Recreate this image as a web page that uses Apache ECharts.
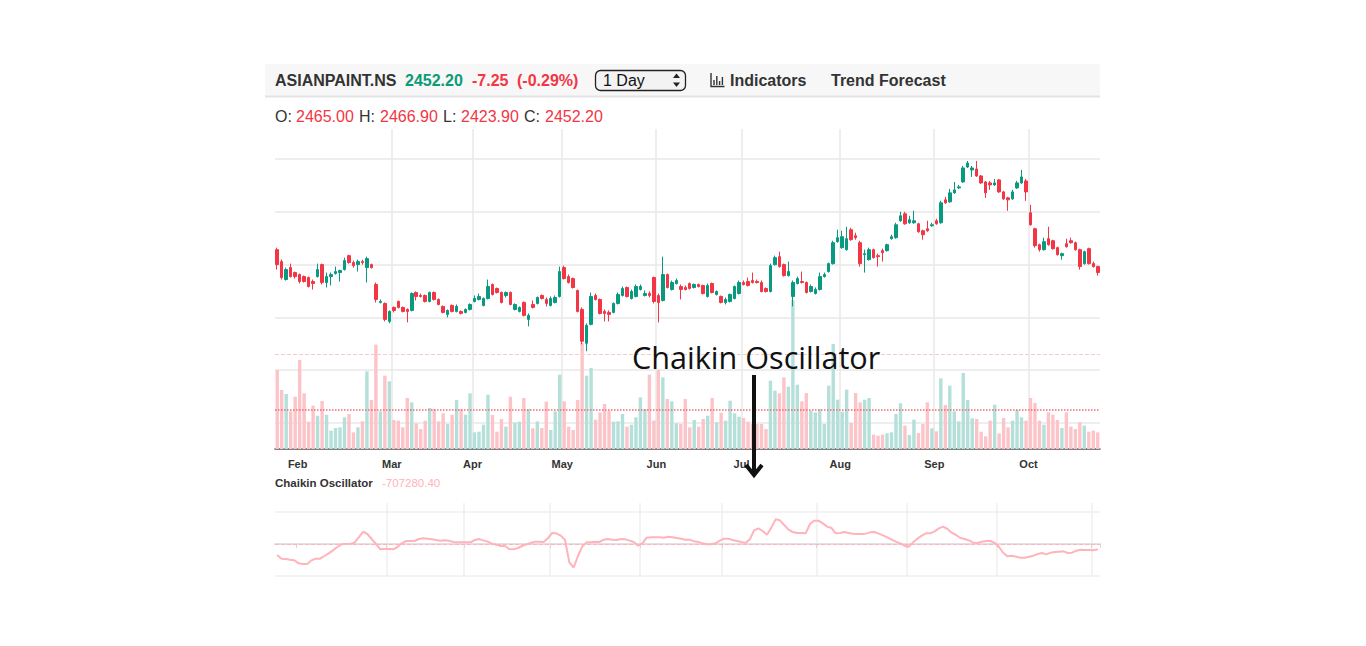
<!DOCTYPE html>
<html>
<head>
<meta charset="utf-8">
<title>ASIANPAINT.NS - Chaikin Oscillator</title>
<script src="https://cdn.jsdelivr.net/npm/echarts@6/dist/echarts.min.js"></script>
<style>
html, body { margin: 0; padding: 0; background: #fff; }
#main { width: 1366px; height: 646px; }
</style>
</head>
<body>
<div id="main"></div>
<script>
// trading days per month (2024)
var janDays = [24, 25, 29, 30, 31];
var febDays = [1, 2, 5, 6, 7, 8, 9, 12, 13, 14, 15, 16, 19, 20, 21, 22, 23, 26, 27, 28, 29];
var marDays = [1, 4, 5, 6, 7, 11, 12, 13, 14, 15, 18, 19, 20, 21, 22, 26, 27, 28];
var aprDays = [1, 2, 3, 4, 5, 8, 9, 10, 12, 15, 16, 18, 19, 22, 23, 24, 25, 26, 29, 30];
var mayDays = [2, 3, 6, 7, 8, 9, 10, 13, 14, 15, 16, 17, 21, 22, 23, 24, 27, 28, 29, 30, 31];
var junDays = [3, 4, 5, 6, 7, 10, 11, 12, 13, 14, 18, 19, 20, 21, 24, 25, 26, 27, 28];
var julDays = [1, 2, 3, 4, 5, 8, 9, 10, 11, 12, 15, 16, 18, 19, 22, 23, 24, 25, 26, 29, 30, 31];
var augDays = [1, 2, 5, 6, 7, 8, 9, 12, 13, 14, 16, 19, 20, 21, 22, 23, 26, 27, 28, 29, 30];
var sepDays = [2, 3, 4, 5, 6, 9, 10, 11, 12, 13, 16, 17, 18, 19, 20, 23, 24, 25, 26, 27, 30];
var octDays = [1, 3, 4, 7, 8, 9, 10, 11, 14, 15, 16, 17, 18, 21, 22, 23];
// the oscillator pane runs a few sessions further
var oscExtraDates = ['2024-10-24', '2024-10-25', '2024-10-28', '2024-10-29', '2024-10-30', '2024-10-31', '2024-11-01', '2024-11-04'];

var monthNames = ['Jan', 'Feb', 'Mar', 'Apr', 'May', 'Jun', 'Jul', 'Aug', 'Sep', 'Oct', 'Nov', 'Dec'];

var opens = [3028,2980,2908,2956,2936,2928,2920,2916,2900,2920,
2968,2896,2920,2932,2936,2948,3004,2976,2968,2980,
2956,2968,2888,2816,2812,2740,2796,2820,2796,2788,
2784,2856,2844,2844,2820,2856,2828,2800,2768,2804,
2780,2780,2776,2788,2820,2828,2804,2832,2888,2872,
2856,2844,2856,2788,2780,2816,2748,2808,2812,2844,
2828,2804,2816,2840,2956,2920,2912,2864,2788,2652,
2728,2844,2828,2780,2776,2776,2812,2844,2876,2832,
2840,2868,2844,2852,2916,2844,2824,2928,2868,2892,
2880,2876,2892,2876,2888,2884,2840,2892,2848,2840,
2816,2820,2832,2852,2896,2900,2904,2900,2896,2872,
2860,2968,3000,2968,2924,2840,2892,2900,2896,2860,
2852,2868,2920,2940,2972,3060,3036,3028,3108,3084,
3056,3008,2988,3028,3004,3024,3024,3072,3076,3144,
3172,3136,3136,3132,3104,3112,3124,3144,3136,3228,
3220,3256,3276,3300,3360,3348,3352,3324,3300,3296,
3288,3308,3260,3236,3232,3276,3296,3304,3176,3112,
3048,3028,3072,3064,3036,3004,3052,3064,3056,3028,
2972,3032,2972,2960];

var closes = [2968,2916,2948,2920,2920,2900,2900,2880,2892,2948,
2896,2920,2928,2940,2944,2984,2976,2964,2980,2976,
2992,2956,2828,2820,2748,2780,2784,2796,2780,2780,
2852,2840,2840,2820,2856,2828,2808,2776,2784,2780,
2800,2772,2788,2808,2832,2840,2832,2880,2848,2856,
2816,2856,2808,2808,2796,2764,2764,2796,2836,2832,
2812,2832,2836,2940,2912,2896,2876,2780,2660,2724,
2840,2828,2772,2772,2768,2812,2848,2872,2840,2860,
2880,2880,2852,2844,2820,2816,2928,2876,2896,2904,
2868,2868,2872,2888,2880,2852,2884,2856,2860,2816,
2828,2848,2880,2896,2888,2884,2896,2896,2860,2860,
2964,2996,2960,2924,2940,2896,2912,2896,2856,2880,
2868,2920,2928,2972,3056,3076,3080,3072,3068,3076,
2972,3012,3028,2996,3000,3016,3048,3080,3128,3164,
3132,3148,3144,3100,3088,3104,3128,3132,3216,3216,
3256,3268,3280,3356,3376,3356,3324,3296,3256,3288,
3296,3260,3232,3228,3260,3296,3320,3260,3128,3044,
3028,3060,3048,3032,3008,3012,3040,3056,3028,2960,
3020,2972,2960,2936];

var lows = [2948,2908,2904,2916,2912,2892,2896,2876,2868,2916,
2888,2876,2884,2928,2900,2944,2972,2956,2940,2968,
2896,2952,2816,2812,2740,2732,2776,2792,2776,2736,
2780,2824,2836,2816,2816,2824,2804,2772,2756,2776,
2776,2768,2772,2784,2816,2824,2800,2828,2844,2852,
2812,2836,2804,2784,2776,2760,2720,2792,2808,2828,
2800,2800,2812,2836,2908,2892,2872,2776,2648,2620,
2724,2824,2768,2740,2740,2772,2808,2840,2836,2828,
2836,2864,2840,2836,2812,2736,2820,2872,2864,2888,
2828,2864,2868,2872,2876,2848,2836,2852,2844,2812,
2808,2816,2828,2848,2884,2880,2892,2892,2856,2856,
2856,2964,2956,2920,2920,2800,2888,2892,2852,2856,
2848,2864,2916,2936,2968,3056,3032,3024,3064,3068,
2960,2936,2984,2992,2960,2980,3020,3068,3072,3140,
3128,3132,3132,3096,3068,3100,3120,3128,3132,3212,
3216,3252,3272,3296,3356,3320,3320,3292,3236,3268,
3284,3256,3228,3184,3228,3272,3292,3224,3124,3036,
3020,3024,3044,3028,3004,2988,3036,3052,3024,2948,
2968,2968,2956,2924];

var highs = [3036,2988,2956,2972,2940,2932,2924,2920,2908,2972,
2972,2936,2936,2960,2948,2996,3008,2984,2988,2988,
3000,2972,2896,2828,2816,2784,2800,2824,2800,2792,
2856,2860,2852,2848,2860,2860,2832,2804,2788,2808,
2808,2784,2792,2812,2844,2852,2836,2908,2892,2876,
2860,2860,2860,2812,2800,2820,2772,2824,2840,2848,
2836,2840,2844,2960,2964,2928,2916,2868,2796,2732,
2856,2852,2832,2788,2784,2816,2856,2880,2880,2868,
2888,2888,2864,2860,2920,2852,3000,2932,2904,2912,
2888,2884,2896,2892,2892,2888,2892,2896,2864,2844,
2836,2852,2884,2904,2904,2916,2936,2908,2904,2876,
2972,3004,3020,2972,2980,2904,2920,2940,2900,2888,
2876,2936,2936,2976,3064,3108,3104,3120,3116,3096,
3064,3028,3036,3032,3012,3032,3052,3088,3136,3180,
3180,3164,3184,3136,3108,3144,3136,3152,3224,3240,
3272,3300,3288,3364,3384,3364,3384,3328,3304,3304,
3312,3312,3264,3240,3268,3304,3348,3312,3208,3116,
3052,3076,3120,3068,3040,3016,3072,3076,3060,3032,
3024,3036,2980,2964];

// volume, thousands of shares
var volumes = [2370,1770,1650,1130,1570,2670,1670,820,1300,1000,
1440,1030,550,630,650,950,1050,500,650,830,
2330,1470,3130,1130,2200,2030,870,850,650,1530,
1400,770,600,850,1230,1200,830,1070,750,1030,
1470,1200,1030,1670,500,520,730,1630,1020,520,
900,670,1570,790,820,1530,1200,620,830,630,
1420,570,1130,2230,1430,670,570,1470,3180,2200,
2430,880,1100,1350,1150,820,830,1050,670,730,
950,1550,1200,2230,850,2370,2150,1500,1430,770,
750,1500,650,870,670,900,1000,1530,800,1090,
850,1450,1070,970,930,820,750,750,750,600,
2050,1750,1670,2150,1870,4470,1930,1430,1680,1150,
1100,1200,750,1900,3150,1480,1120,1780,780,1680,
1400,1480,1530,430,400,430,470,500,1050,1370,
700,420,880,480,750,1400,620,530,2120,1320,
1900,1130,830,2280,1470,920,900,520,380,850,
1330,470,930,650,850,1170,950,850,1530,1380,
850,730,1100,1030,870,630,1100,670,600,800,
700,520,550,500];
var volumeLevels = [2850, 1170];

// Chaikin oscillator, thousands
var chaikin = [-1375,-1833,-1875,-1958,-2042,-2417,-2500,-2500,-2042,-1833,
-1833,-1500,-1167,-792,-375,-42,0,10,167,833,
1542,1250,625,0,-667,-625,-625,-667,-375,83,
375,375,375,625,708,667,583,500,417,458,
417,250,208,208,208,208,500,625,458,292,
42,-83,-250,-250,-625,-667,-500,-250,-42,125,
292,292,250,708,1375,1333,1042,500,-2292,-2958,
-1500,-333,208,208,292,250,542,625,542,500,
625,583,417,250,-208,83,792,833,833,833,
792,917,833,750,667,542,542,333,250,83,
-42,-42,83,417,667,667,500,375,250,125,
583,1708,1958,1625,1167,2042,3083,2958,2375,1792,
1500,1375,1375,1333,2500,2917,2917,2583,2167,2000,
1333,1375,1500,1375,1292,1250,1250,1292,1458,1500,
1292,1083,833,542,292,83,-208,-333,208,667,
1042,1333,1333,1583,1958,2167,1875,1417,1125,750,
625,458,167,125,292,375,375,125,-375,-1125,
-1542,-1458,-1583,-1708,-1708,-1583,-1458,-1250,-1125,-1292,
-1083,-1000,-958,-917,-1125,-1083,-833,-708,-750,-750,
-792,-667];

var UP = '#089981', DOWN = '#f23645';
var VOL_UP = '#b5e0d9', VOL_DOWN = '#fcc4c8';
var OSC = '#ffb3ba';

function pad(n){ return n < 10 ? '0' + n : '' + n; }
function monthDates(m, days){
    return days.map(function(d){ return '2024-' + pad(m) + '-' + pad(d); });
}
var dates = [].concat(
    monthDates(1, janDays), monthDates(2, febDays), monthDates(3, marDays),
    monthDates(4, aprDays), monthDates(5, mayDays), monthDates(6, junDays),
    monthDates(7, julDays), monthDates(8, augDays), monthDates(9, sepDays),
    monthDates(10, octDays)
);
var oscDates = dates.concat(oscExtraDates);

function monthStart(list){
    return function(i){ return i > 0 && i < list.length && list[i].slice(5, 7) !== list[i - 1].slice(5, 7); };
}
var isMonthStart = monthStart(dates);
var isOscMonthStart = monthStart(oscDates);

var candles = dates.map(function(d, i){ return [opens[i], closes[i], lows[i], highs[i]]; });
var volBars = volumes.map(function(v, i){
    return { value: v, itemStyle: { color: closes[i] >= opens[i] ? VOL_UP : VOL_DOWN } };
});

var SANS = '"Liberation Sans", Arial, Helvetica, sans-serif';

function txt(x, y, s, color, font){
    return { type: 'text', x: x, y: y, z: 100,
        style: { text: s, fill: color, font: font, verticalAlign: 'middle' } };
}

var myChart = echarts.init(document.getElementById('main'), null, { renderer: 'svg' });

var option = {
    animation: false,
    backgroundColor: '#fff',
    grid: [
        { left: 275, right: 266, top: 159, height: 264 },
        { left: 275, right: 266, top: 129, height: 320 },
        { left: 275, right: 266, top: 503, height: 73 }
    ],
    xAxis: [
        { type: 'category', gridIndex: 0, data: dates, boundaryGap: true, show: false },
        {
            type: 'category', gridIndex: 1, data: dates, boundaryGap: true,
            axisLine: { lineStyle: { color: '#555', width: 1.5 } },
            axisTick: { show: false },
            axisLabel: {
                interval: isMonthStart,
                formatter: function(v){ return monthNames[+v.slice(5, 7) - 1]; },
                color: '#333', fontWeight: 'bold', fontSize: 11, fontFamily: SANS, margin: 9,
                padding: [0, 4, 0, 0]
            },
            splitLine: { show: true, interval: isMonthStart, showMinLine: false, showMaxLine: false,
                lineStyle: { color: '#e8e8e8', width: 1.5 } }
        },
        {
            type: 'category', gridIndex: 2, data: oscDates, boundaryGap: true,
            axisLine: { lineStyle: { color: '#e2e2e2', width: 2 } },
            axisTick: { show: true, interval: isOscMonthStart, length: 4, lineStyle: { color: '#d8d8d8' } },
            axisLabel: { show: false },
            splitLine: { show: true, interval: isOscMonthStart, showMinLine: false, showMaxLine: false,
                lineStyle: { color: '#efefef', width: 1.5 } }
        }
    ],
    yAxis: [
        {
            type: 'value', gridIndex: 0, min: 2332, max: 3392, interval: 212,
            axisLine: { show: false }, axisTick: { show: false }, axisLabel: { show: false },
            splitLine: { lineStyle: { color: '#e8e8e8', width: 1.5 } }
        },
        {
            type: 'value', gridIndex: 1, min: 0, max: 9600,
            axisLine: { show: false }, axisTick: { show: false }, axisLabel: { show: false },
            splitLine: { show: false }
        },
        {
            type: 'value', gridIndex: 2, min: -4000, max: 5125, interval: 4000,
            axisLine: { show: false }, axisTick: { show: false }, axisLabel: { show: false },
            splitLine: { showMaxLine: false, lineStyle: { color: '#efefef', width: 1.5 } }
        }
    ],
    series: [
        {
            name: 'Volume', type: 'bar', xAxisIndex: 1, yAxisIndex: 1,
            data: volBars, barWidth: '76%',
            markLine: {
                silent: true, symbol: 'none', label: { show: false },
                data: [
                    { yAxis: volumeLevels[0], lineStyle: { color: '#f9c9cd', type: 'dashed', width: 1 } },
                    { yAxis: volumeLevels[1], lineStyle: { color: '#f06b75', type: 'dotted', width: 1.5 } }
                ]
            }
        },
        {
            name: 'ASIANPAINT.NS', type: 'candlestick', xAxisIndex: 0, yAxisIndex: 0,
            data: candles, barWidth: 3,
            itemStyle: { color: UP, color0: DOWN, borderColor: UP, borderColor0: DOWN, borderWidth: 1 }
        },
        {
            name: 'Chaikin Oscillator', type: 'line', xAxisIndex: 2, yAxisIndex: 2,
            data: chaikin, symbol: 'none',
            lineStyle: { color: OSC, width: 2 },
            markLine: {
                silent: true, symbol: 'none', label: { show: false },
                data: [{ yAxis: 0, lineStyle: { color: OSC, type: 'dashed', width: 1 } }]
            }
        }
    ],
    graphic: [
        // toolbar
        { type: 'rect', z: 90, shape: { x: 265, y: 64, width: 835, height: 32 }, style: { fill: '#f7f7f7' } },
        { type: 'line', z: 90, shape: { x1: 265, y1: 96.5, x2: 1100, y2: 96.5 }, style: { stroke: '#e3e3e3', lineWidth: 2 } },
        txt(275, 80, 'ASIANPAINT.NS', '#333', 'bold 16px ' + SANS),
        txt(405, 80, '2452.20', '#0d9a78', 'bold 16px ' + SANS),
        txt(472, 80, '-7.25', '#f23645', 'bold 16px ' + SANS),
        txt(517, 80, '(-0.29%)', '#f23645', 'bold 16px ' + SANS),
        { type: 'rect', z: 95, shape: { x: 595.5, y: 70.5, width: 90, height: 20, r: 5 },
          style: { fill: '#f3f3f3', stroke: '#222', lineWidth: 1.3 } },
        txt(603, 80.5, '1 Day', '#111', '16px ' + SANS),
        { type: 'polygon', z: 100, shape: { points: [[673, 78], [676.5, 73.5], [680, 78]] }, style: { fill: '#222' } },
        { type: 'polygon', z: 100, shape: { points: [[673, 82.5], [676.5, 87], [680, 82.5]] }, style: { fill: '#222' } },
        { type: 'polyline', z: 100, shape: { points: [[711, 73], [711, 86.5], [724.5, 86.5]] }, style: { stroke: '#333', lineWidth: 1.4, fill: null } },
        { type: 'line', z: 100, shape: { x1: 714, y1: 85, x2: 714, y2: 80 }, style: { stroke: '#333', lineWidth: 1.4 } },
        { type: 'line', z: 100, shape: { x1: 716.8, y1: 85, x2: 716.8, y2: 76 }, style: { stroke: '#333', lineWidth: 1.4 } },
        { type: 'line', z: 100, shape: { x1: 719.6, y1: 85, x2: 719.6, y2: 81 }, style: { stroke: '#333', lineWidth: 1.4 } },
        { type: 'line', z: 100, shape: { x1: 722.4, y1: 85, x2: 722.4, y2: 77 }, style: { stroke: '#333', lineWidth: 1.4 } },
        txt(730, 80, 'Indicators', '#333', 'bold 16px ' + SANS),
        txt(831, 80, 'Trend Forecast', '#333', 'bold 16px ' + SANS),
        // OHLC line
        txt(275, 116, 'O:', '#333', '16px ' + SANS),
        txt(296, 116, '2465.00', '#f23645', '16px ' + SANS),
        txt(359, 116, 'H:', '#333', '16px ' + SANS),
        txt(380, 116, '2466.90', '#f23645', '16px ' + SANS),
        txt(443, 116, 'L:', '#333', '16px ' + SANS),
        txt(461, 116, '2423.90', '#f23645', '16px ' + SANS),
        txt(524, 116, 'C:', '#333', '16px ' + SANS),
        txt(545, 116, '2452.20', '#f23645', '16px ' + SANS),
        // oscillator pane title
        txt(275, 483, 'Chaikin Oscillator', '#333', 'bold 11.5px ' + SANS),
        txt(382, 483, '-707280.40', OSC, '11.5px ' + SANS),
        // annotation
        txt(632, 357, 'Chaikin Oscillator', '#111', '30.6px "Open Sans", "Noto Sans", sans-serif'),
        { type: 'line', z: 100, shape: { x1: 754, y1: 375, x2: 754, y2: 474 }, style: { stroke: '#111', lineWidth: 4 } },
        { type: 'polyline', z: 100, shape: { points: [[746, 465], [754, 475], [762, 465]] },
          style: { stroke: '#111', lineWidth: 4, fill: null } }
    ]
};
myChart.setOption(option);
</script>
</body>
</html>
